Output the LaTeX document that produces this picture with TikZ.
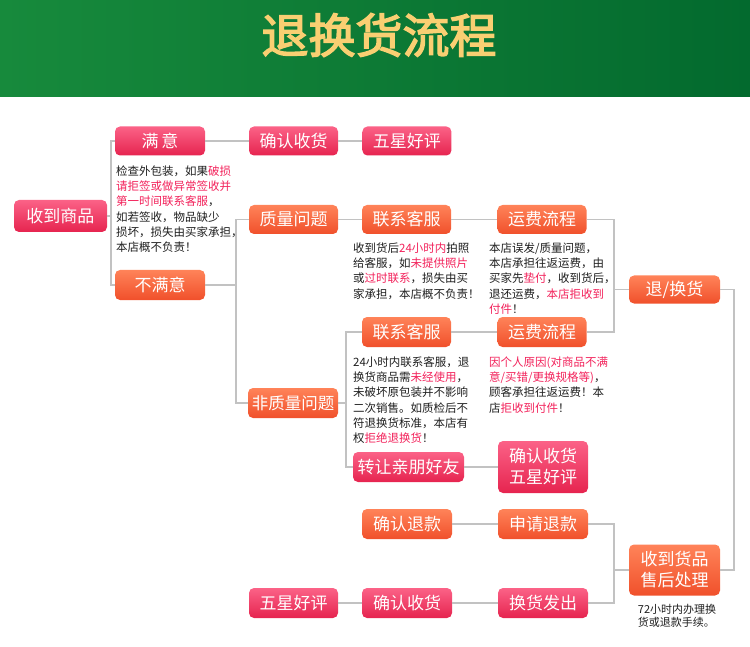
\documentclass[tikz,border=0pt]{standalone}
\usepackage{fontspec}
\setmainfont{Noto Sans CJK SC}
\newfontfamily\titlefont{Noto Sans CJK SC}[FakeBold=3]
\usepackage{tikz}
\usetikzlibrary{positioning,calc}
\definecolor{HeadGreenL}{HTML}{178A3C}
\definecolor{HeadGreenR}{HTML}{036A2E}
\definecolor{Gold}{HTML}{F9CF72}
\definecolor{PinkTop}{HTML}{FB6287}
\definecolor{PinkBot}{HTML}{E6244F}
\definecolor{OrangeTop}{HTML}{FF8359}
\definecolor{OrangeBot}{HTML}{F0502B}
\definecolor{HotRed}{HTML}{F2215A}
\definecolor{Ink}{HTML}{1E1E1E}
\definecolor{Wire}{HTML}{C2C2C2}
\newcommand{\hot}[1]{\textcolor{HotRed}{#1}}

\begin{document}
\begin{tikzpicture}[
  x=1pt, y=-1pt,
  box/.style={
    rounded corners=5pt,
    minimum width=89pt,
    minimum height=29pt,
    inner sep=0pt,
    align=center,
    text=white,
    font=\fontsize{17}{21}\selectfont
  },
  pinkbox/.style={box,top color=PinkTop,bottom color=PinkBot},
  orangebox/.style={box,top color=OrangeTop,bottom color=OrangeBot},
  note/.style={anchor=north west,inner sep=0pt,align=left,text=Ink,
    font=\fontsize{11.5}{15.2}\selectfont},
  link/.style={draw=Wire,line width=1.8pt}
]
\useasboundingbox (0,0) rectangle (750,647);

% header
\shade[left color=HeadGreenL,right color=HeadGreenR] (0,0) rectangle (750,97);
\node[text=Gold,font=\titlefont\fontsize{47}{50}\selectfont] (title) at (379,35) {退换货流程};

% first column
\node[pinkbox,minimum width=93pt,minimum height=32pt] (recv) at (60.5,216) {收到商品};
\node[pinkbox,minimum width=90pt] (ok) at (160,141) {满\,意};
\node[orangebox,minimum width=90pt,minimum height=30pt] (notok) at (160,285) {不满意};
\node[note] (okinfo) at (116,165.5) {检查外包装，如果\hot{破损}\\
  \hot{请拒签或做异常签收并}\\
  \hot{第一时间联系客服}，\\
  如若签收，物品缺少\\
  损坏，损失由买家承担，\\
  本店概不负责！};

% satisfied
\node[pinkbox] (confirmA) at (293.5,141) {确认收货};
\node[pinkbox,right=24pt of confirmA] (starA) {五星好评};

% quality problem
\node[orangebox] (quality) at (293.5,219.5) {质量问题};
\node[orangebox] (csA) at (406.5,219.5) {联系客服};
\node[orangebox] (feeA) at (542,219.5) {运费流程};
\node[note] (csAinfo) at (353,242.5) {收到货后\hot{24小时内}拍照\\
  给客服，如\hot{未提供照片}\\
  或\hot{过时联系}，损失由买\\
  家承担，本店概不负责！};
\node[note] (feeAinfo) at (489,242.5) {本店误发/质量问题，\\
  本店承担往返运费，由\\
  买家先\hot{垫付}，收到货后，\\
  退还运费，\hot{本店拒收到}\\
  \hot{付件}！};

% return / exchange
\node[orangebox,minimum width=91pt,minimum height=28pt] (swap) at (674.5,289.5) {退/换货};

% non-quality problem
\node[orangebox,minimum width=90pt,minimum height=30pt,font=\fontsize{16.5}{20}\selectfont] (nonq) at (293,403) {非质量问题};
\node[orangebox,minimum height=30pt] (csB) at (406.5,332) {联系客服};
\node[orangebox,minimum height=30pt] (feeB) at (542,332) {运费流程};
\node[note] (csBinfo) at (353,356.5) {24小时内联系客服，退\\
  换货商品需\hot{未经使用}，\\
  未破坏原包装并不影响\\
  二次销售。如质检后不\\
  符退换货标准，本店有\\
  权\hot{拒绝退换货}！};
\node[note] (feeBinfo) at (489,356.5) {\hot{因个人原因(对商品不满}\\
  \hot{意/买错/更换规格等)}，\\
  顾客承担往返运费！本\\
  店\hot{拒收到付件}！};
\node[pinkbox,minimum width=111pt,minimum height=30pt] (give) at (408.5,467) {转让亲朋好友};
\node[pinkbox,minimum width=90pt,minimum height=52pt] (confirmB) at (543,467) {确认收货\\五星好评};

% after-sale
\node[orangebox,minimum width=91pt,minimum height=51pt] (after) at (674.5,570) {收到货品\\售后处理};
\node[note,anchor=north,font=\fontsize{11}{13.5}\selectfont] (afterinfo) at (677,604) {72小时内办理换\\货或退款手续。};
\node[orangebox,minimum width=90pt,minimum height=30pt] (refund) at (407,524) {确认退款};
\node[orangebox,minimum width=90pt,minimum height=30pt] (applyref) at (543,524) {申请退款};
\node[pinkbox,minimum width=90pt,minimum height=30pt] (ship) at (543,603) {换货发出};
\node[pinkbox,minimum width=90pt,minimum height=30pt] (confirmC) at (407,603) {确认收货};
\node[pinkbox,minimum height=30pt] (starC) at (293.5,603) {五星好评};

% connectors
\coordinate (b1) at ($(recv.east)+(3.5,0)$);
\coordinate (b2) at ($(notok.east)+(31,0)$);
\coordinate (b3) at ($(swap.west)+(-14.5,0)$);
\coordinate (b4) at ($(nonq.east)+(7.5,0)$);
\coordinate (b5) at ($(after.west)+(-14.5,0)$);
\coordinate (b6) at ($(swap.east)+(14,0)$);
\draw[link] (recv.east) -- (b1);
\draw[link] (ok.west) -| (b1) |- (notok.west);
\draw[link] (ok) -- (confirmA) -- (starA);
\draw[link] (notok.east) -- (b2);
\draw[link] (quality.west) -| (b2) |- (nonq.west);
\draw[link] (quality) -- (csA) -- (feeA);
\draw[link] (feeA.east) -| (b3) |- (feeB.east);
\draw[link] (b3) -- (swap.west);
\draw[link] (nonq.east) -- (b4);
\draw[link] (csB.west) -| (b4) |- (give.west);
\draw[link] (csB) -- (feeB);
\draw[link] (give) -- (confirmB);
\draw[link] (swap.east) -- (b6) |- (after.east);
\draw[link] (applyref.east) -| (b5) |- (ship.east);
\draw[link] (b5) -- (after.west);
\draw[link] (refund) -- (applyref);
\draw[link] (starC) -- (confirmC) -- (ship);
\end{tikzpicture}
\end{document}
